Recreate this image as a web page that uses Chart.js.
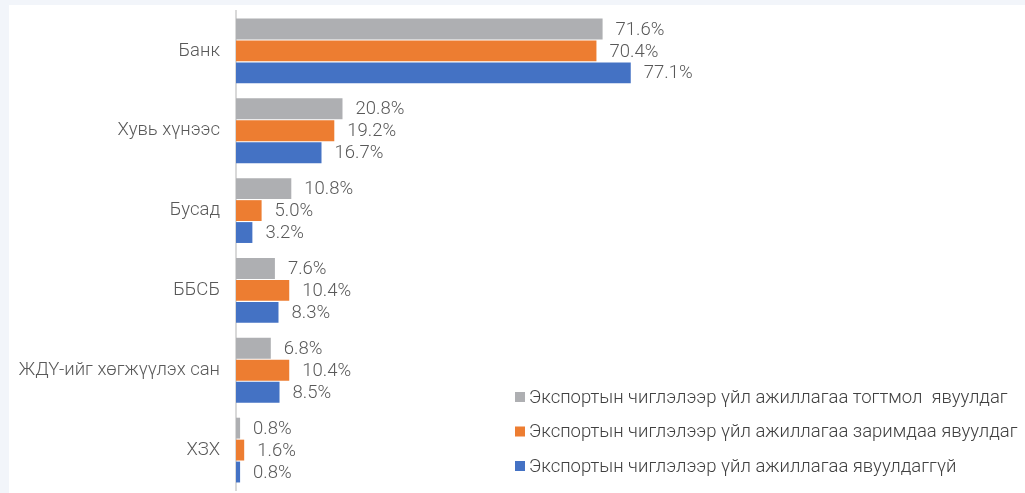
<!DOCTYPE html>
<html>
<head>
<meta charset="utf-8">
<script src="https://cdn.jsdelivr.net/npm/chart.js@4"></script>
<style>
  html, body { margin: 0; padding: 0; background: #f2f5fa; width: 1025px; height: 493px; overflow: hidden; }
  #card { position: absolute; left: 9px; top: 5px; width: 1016px; height: 488px; background: #ffffff; }
  canvas { display: block; }
</style>
</head>
<body>
<div id="card"><canvas id="c" width="1016" height="488"></canvas></div>
<script>
const categories = ["Банк", "Хувь хүнээс", "Бусад", "ББСБ", "ЖДҮ-ийг хөгжүүлэх сан", "ХЗХ"];
const seriesNames = [
  "Экспортын чиглэлээр үйл ажиллагаа тогтмол  явуулдаг",
  "Экспортын чиглэлээр үйл ажиллагаа заримдаа явуулдаг",
  "Экспортын чиглэлээр үйл ажиллагаа явуулдаггүй"
];
const regular = [71.6, 20.8, 10.8, 7.6, 6.8, 0.8];
const sometimes = [70.4, 19.2, 5.0, 10.4, 10.4, 1.6];
const never = [77.1, 16.7, 3.2, 8.3, 8.5, 0.8];
const colors = ["#AEAFB2", "#ED7D31", "#4472C4"];

const FONT = "Roboto, 'Noto Sans', sans-serif";
const TEXT = "#595959";
const FONT_SIZE = 18.5;
const FONT_WEIGHT = "300";

const dataLabels = {
  id: 'dataLabels',
  afterDatasetsDraw(chart) {
    const ctx = chart.ctx;
    ctx.save();
    ctx.font = FONT_WEIGHT + " " + FONT_SIZE + "px " + FONT;
    ctx.fillStyle = TEXT;
    ctx.textAlign = 'left';
    ctx.textBaseline = 'middle';
    chart.data.datasets.forEach((ds, i) => {
      const meta = chart.getDatasetMeta(i);
      meta.data.forEach((el, j) => {
        ctx.fillText(ds.data[j].toFixed(1) + '%', el.x + 13, el.y + 1);
      });
    });
    ctx.restore();
  }
};

const customLegend = {
  id: 'customLegend',
  afterDraw(chart) {
    const ctx = chart.ctx;
    ctx.save();
    ctx.font = FONT_WEIGHT + " " + FONT_SIZE + "px " + FONT;
    ctx.textAlign = 'left';
    ctx.textBaseline = 'middle';
    const x0 = 506, y0 = 392, step = 34.5;
    chart.data.datasets.forEach((ds, i) => {
      const y = y0 + i * step;
      ctx.fillStyle = ds.backgroundColor;
      ctx.fillRect(x0, y - 5, 10, 10);
      ctx.fillStyle = "#404040";
      ctx.fillText(ds.label, x0 + 14, y + 1);
    });
    ctx.restore();
  }
};

new Chart(document.getElementById('c'), {
  type: 'bar',
  data: {
    labels: categories,
    datasets: [
      { label: seriesNames[0], data: regular, backgroundColor: colors[0] },
      { label: seriesNames[1], data: sometimes, backgroundColor: colors[1] },
      { label: seriesNames[2], data: never, backgroundColor: colors[2] }
    ]
  },
  options: {
    indexAxis: 'y',
    responsive: false,
    animation: false,
    devicePixelRatio: 1,
    categoryPercentage: 0.825,
    barPercentage: 0.95,
    layout: { padding: { top: 6, bottom: 3, left: 0, right: 21 } },
    plugins: { legend: { display: false }, tooltip: { enabled: false } },
    scales: {
      x: { display: false, min: 0, max: 150 },
      y: {
        grid: { display: false, drawTicks: false },
        border: { display: true, color: '#d9d9d9', width: 2 },
        ticks: { color: TEXT, font: { family: FONT, size: FONT_SIZE, weight: FONT_WEIGHT }, padding: 16 },
        afterFit(scale) { scale.width = 227; scale.paddingTop = 0; scale.paddingBottom = 0; }
      }
    }
  },
  plugins: [dataLabels, customLegend]
});
</script>
</body>
</html>
